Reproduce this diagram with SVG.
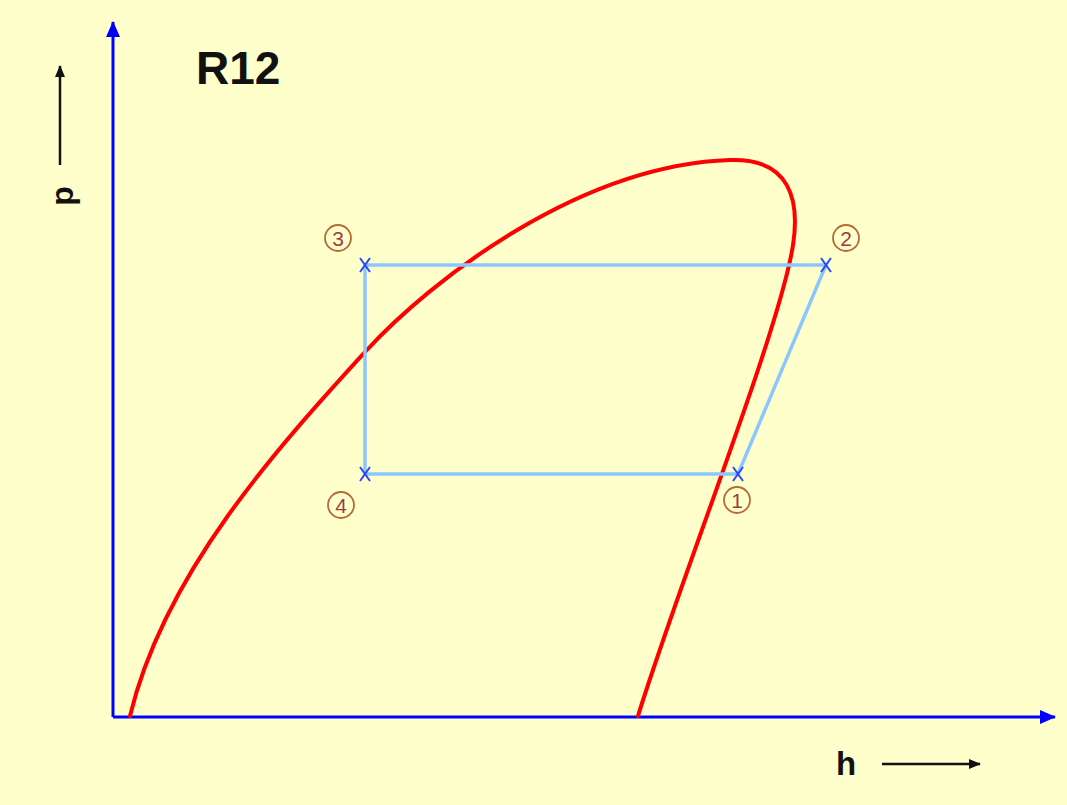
<svg xmlns="http://www.w3.org/2000/svg" width="1067" height="805" viewBox="0 0 1067 805">
<defs>
<style>
.axis{stroke:#0000FF;stroke-width:3;fill:none}
.dome{stroke:#FF0000;stroke-width:4;fill:none;stroke-linecap:round}
.cyc{stroke:#8CC6FF;stroke-width:3.5;fill:none}
.x{stroke:#2848FF;stroke-width:2;fill:none}
.lbl{font-family:"Liberation Sans",Arial,sans-serif;font-weight:bold;fill:#111}
.num circle{fill:none;stroke:#B46A38;stroke-width:1.8}
.num text{font-family:"Liberation Sans",Arial,sans-serif;font-size:21px;fill:#A03C3C;text-anchor:middle}
</style>
<marker id="ak" markerWidth="12" markerHeight="10" refX="11" refY="5" orient="auto" markerUnits="userSpaceOnUse" viewBox="0 0 12 10"><path d="M0,0 L12,5 L0,10 z" fill="#111"/></marker>
<marker id="abig" markerWidth="16" markerHeight="14" refX="15" refY="7" orient="auto" markerUnits="userSpaceOnUse" viewBox="0 0 16 14"><path d="M0,0 L16,7 L0,14 z" fill="#0000FF"/></marker>
</defs>
<rect width="1067" height="805" fill="#FFFFCC"/>
<g id="connectors">
<path id="y-axis" class="axis" d="M113,717 L113,22" marker-end="url(#abig)"/>
<path id="x-axis" class="axis" d="M113,717 L1055,717" marker-end="url(#abig)"/>
<path id="dome" class="dome" d="M130,716 C165,570 283,442 365,352 C432,279 580,165 730,160 C790,158 800,200 793,245 C780,330 680,580 638,716"/>
<path id="cycle" class="cyc" d="M365,265 L826,265 L738,474 L365,474 Z"/>
<path class="x" d="M360,258 L370,272 M370,258 L360,272"/>
<path class="x" d="M821,258 L831,272 M831,258 L821,272"/>
<path class="x" d="M733,467 L743,481 M743,467 L733,481"/>
<path class="x" d="M360,467 L370,481 M370,467 L360,481"/>
<path d="M60,165 L60,66" stroke="#111" stroke-width="2.5" marker-end="url(#ak)"/>
<path d="M882,764 L980,764" stroke="#111" stroke-width="2.5" marker-end="url(#ak)"/>
</g>
<g id="title"><text class="lbl" x="196" y="84" font-size="46">R12</text></g>
<g id="label-p"><text class="lbl" font-size="32" text-anchor="middle" transform="translate(73,196) rotate(-90)">p</text></g>
<g id="label-h"><text class="lbl" x="836" y="775" font-size="33">h</text></g>
<g id="pt3" class="num"><circle cx="338" cy="238" r="13"/><text x="338" y="245.5">3</text></g>
<g id="pt2" class="num"><circle cx="846" cy="238" r="13"/><text x="846" y="245.5">2</text></g>
<g id="pt4" class="num"><circle cx="341" cy="505" r="13"/><text x="341" y="512.5">4</text></g>
<g id="pt1" class="num"><circle cx="737" cy="500" r="13"/><text x="737" y="507.5">1</text></g>
</svg>
